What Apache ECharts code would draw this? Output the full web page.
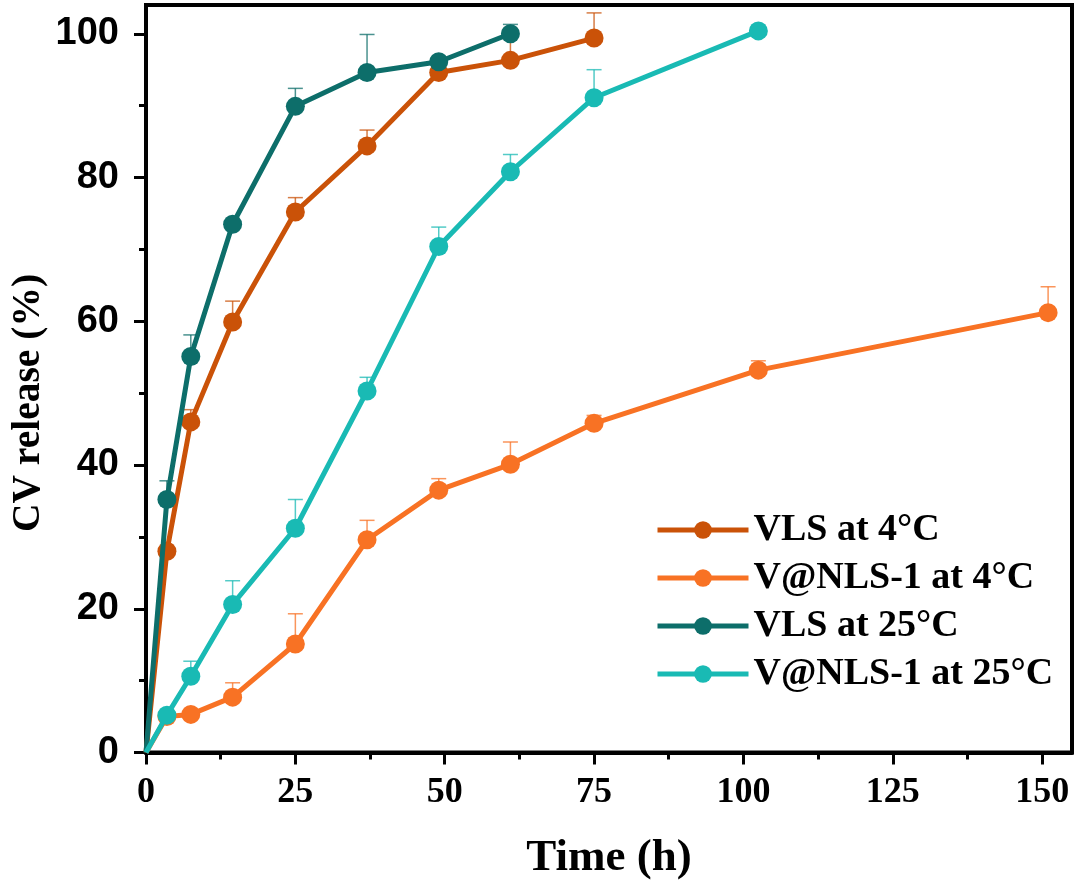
<!DOCTYPE html>
<html><head><meta charset="utf-8">
<script src="https://cdn.jsdelivr.net/npm/echarts@6/dist/echarts.min.js"></script>
<style>html,body{margin:0;padding:0;background:#fff}#c{width:1080px;height:890px}</style>
</head><body><div id="c"></div>
<script>
// ---- data ----
const seriesNames = ['VLS at 4°C', 'V@NLS-1 at 4°C', 'VLS at 25°C', 'V@NLS-1 at 25°C'];
const timeVLS4   = [0, 3.5, 7.5, 14.5, 25, 37, 49, 61, 75];
const valVLS4    = [0, 28.0, 46.0, 59.9, 75.2, 84.4, 94.6, 96.3, 99.4];
const errVLS4    = [0, 0, 1.7, 2.9, 2.0, 2.2, 0, 4.3, 3.5];
const timeVNLS4  = [0, 3.5, 7.5, 14.5, 25, 37, 49, 61, 75, 102.5, 151];
const valVNLS4   = [0, 5.0, 5.3, 7.7, 15.1, 29.6, 36.5, 40.1, 45.8, 53.2, 61.2];
const errVNLS4   = [0, 0, 0, 2.0, 4.2, 2.7, 1.6, 3.1, 1.1, 1.3, 3.6];
const timeVLS25  = [0, 3.5, 7.5, 14.5, 25, 37, 49, 61];
const valVLS25   = [0, 35.2, 55.1, 73.5, 89.9, 94.6, 96.1, 100.0];
const errVLS25   = [0, 2.6, 3.0, 0, 2.5, 5.3, 0, 1.3];
const timeVNLS25 = [0, 3.5, 7.5, 14.5, 25, 37, 49, 61, 75, 102.5];
const valVNLS25  = [0, 5.2, 10.6, 20.6, 31.2, 50.3, 70.4, 80.8, 91.1, 100.4];
const errVNLS25  = [0, 0, 2.1, 3.3, 4.0, 1.9, 2.7, 2.4, 3.9, 0];
const xMajorTicks = [0, 25, 50, 75, 100, 125, 150];
const xMinorTicks = [12.5, 37.5, 62.5, 87.5, 112.5, 137.5];
const yMajorTicks = [0, 20, 40, 60, 80, 100];
const yMinorTicks = [10, 30, 50, 70, 90];
const xTitle = 'Time (h)';
const yTitle = 'CV release (%)';

// ---- styling ----
const colors = ['#CA5208', '#F87224', '#0D6E6A', '#19BAB4'];
const times = [timeVLS4, timeVNLS4, timeVLS25, timeVNLS25];
const vals = [valVLS4, valVNLS4, valVLS25, valVNLS25];
const errs = [errVLS4, errVNLS4, errVLS25, errVNLS25];

const serif = 'Liberation Serif, Times New Roman, serif';
const sans = 'Liberation Sans, Arial, sans-serif';

function makeErrRender(color) {
  return function (params, api) {
    const x = api.value(0), y = api.value(1), e = api.value(2);
    const p0 = api.coord([x, y]);
    const p1 = api.coord([x, y + e]);
    const w = 7.5;
    const st = { stroke: color, lineWidth: 1.5, opacity: 0.75 };
    return { type: 'group', children: [
      { type: 'line', shape: { x1: p0[0], y1: p0[1], x2: p1[0], y2: p1[1] }, style: st },
      { type: 'line', shape: { x1: p1[0] - w, y1: p1[1], x2: p1[0] + w, y2: p1[1] }, style: st }
    ]};
  };
}

const series = [];
for (let i = 0; i < 4; i++) {
  const errData = [];
  times[i].forEach((t, k) => { if (errs[i][k] > 0) errData.push([t, vals[i][k], errs[i][k]]); });
  series.push({
    type: 'custom', name: seriesNames[i] + ' err', xAxisIndex: 0, yAxisIndex: 0,
    renderItem: makeErrRender(colors[i]), data: errData, z: 1, silent: true
  });
}
for (let i = 0; i < 4; i++) {
  series.push({
    type: 'line', name: seriesNames[i], xAxisIndex: 0, yAxisIndex: 0, z: 3 + i,
    data: times[i].map((t, k) => (k === 0 ? { value: [t, vals[i][k]], symbol: 'none' } : [t, vals[i][k]])),
    symbol: 'circle', symbolSize: 19, showSymbol: true,
    lineStyle: { width: 5, color: colors[i] },
    itemStyle: { color: colors[i] }
  });
}

const chart = echarts.init(document.getElementById('c'), null, { renderer: 'canvas' });
chart.setOption({
  animation: false,
  backgroundColor: '#fff',
  grid: { left: 146, right: 8, top: 5, bottom: 137.5, show: true, borderColor: '#000', borderWidth: 4, backgroundColor: 'transparent' },
  legend: {
    data: seriesNames, orient: 'vertical', left: 650, top: 506,
    itemWidth: 91, itemHeight: 22, itemGap: 10,
    lineStyle: { width: 5 },
    textStyle: { fontFamily: serif, fontWeight: 'bold', fontSize: 38, color: '#000', lineHeight: 38 }
  },
  graphic: [{
    type: 'text', x: 29, y: 403, rotation: Math.PI / 2,
    style: { text: yTitle, fontFamily: serif, fontWeight: 'bold', fontSize: 39.5, fill: '#000', textAlign: 'center', textVerticalAlign: 'middle' }
  }],
  xAxis: [{
    type: 'value', min: 0, max: 155, position: 'bottom',
    name: xTitle, nameLocation: 'middle', nameGap: 83,
    nameTextStyle: { fontFamily: serif, fontWeight: 'bold', fontSize: 45, color: '#000' },
    axisLine: { show: true, onZero: false, lineStyle: { color: '#000', width: 4 } },
    axisTick: { show: true, inside: false, length: 12, lineStyle: { color: '#000', width: 3 }, customValues: xMajorTicks },
    axisLabel: { margin: 22, fontFamily: serif, fontWeight: 'bold', fontSize: 36, color: '#000', customValues: xMajorTicks },
    splitLine: { show: false }
  }, {
    type: 'value', min: 0, max: 155, position: 'bottom',
    axisLine: { show: false },
    axisTick: { show: true, inside: false, length: 7, lineStyle: { color: '#000', width: 3 }, customValues: xMinorTicks },
    axisLabel: { show: false },
    splitLine: { show: false }
  }],
  yAxis: [{
    type: 'value', min: 0, max: 104, position: 'left',
    axisLine: { show: true, onZero: false, lineStyle: { color: '#000', width: 4 } },
    axisTick: { show: true, inside: false, length: 12, lineStyle: { color: '#000', width: 3 }, customValues: yMajorTicks },
    axisLabel: { margin: 27, fontFamily: sans, fontWeight: 'bold', fontSize: 38, color: '#000', customValues: yMajorTicks },
    splitLine: { show: false }
  }, {
    type: 'value', min: 0, max: 104, position: 'left',
    axisLine: { show: false },
    axisTick: { show: true, inside: false, length: 7, lineStyle: { color: '#000', width: 3 }, customValues: yMinorTicks },
    axisLabel: { show: false },
    splitLine: { show: false }
  }],
  series: series
});
</script>
</body></html>
